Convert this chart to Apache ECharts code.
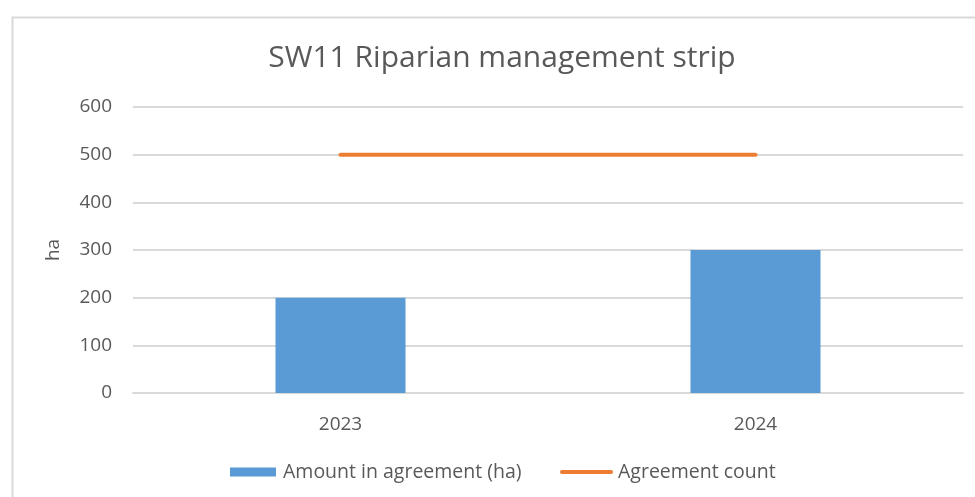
<!DOCTYPE html>
<html>
<head>
<meta charset="utf-8">
<script src="https://cdn.jsdelivr.net/npm/echarts@6/dist/echarts.min.js"></script>
<style>html,body{margin:0;padding:0;background:#fff;}#c{width:975px;height:497px;}</style>
</head>
<body>
<div id="c"></div>
<script>
const categories = ['2023', '2024'];
const amountHa = [200, 300];
const agreementCount = [500, 500];
const yTicks = { min: 0, max: 600, interval: 100 };
const titleText = 'SW11 Riparian management strip';
const seriesNames = ['Amount in agreement (ha)', 'Agreement count'];

const FONT = '"Open Sans", "Noto Sans", sans-serif';
const legendText = { fontFamily: FONT, fontSize: 19.5, color: '#595959', padding: [0, 0, 0, 2] };
const chart = echarts.init(document.getElementById('c'), null, { renderer: 'canvas' });
chart.setOption({
  animation: false,
  backgroundColor: '#fff',
  graphic: [{
    type: 'rect', left: 10, top: 15, silent: true,
    shape: { width: 980, height: 500 },
    style: { fill: 'none', stroke: '#D9D9D9', lineWidth: 2 }
  }],
  title: {
    text: titleText, left: 497, top: 38, textAlign: 'center',
    textStyle: { fontFamily: FONT, fontSize: 30, fontWeight: 'normal', color: '#595959' }
  },
  grid: { left: 133, right: 12, top: 107, bottom: 104 },
  legend: [
    {
      left: 225, top: 457, itemWidth: 46, itemHeight: 9, padding: 5,
      textStyle: legendText,
      data: [{ name: seriesNames[0], icon: 'rect' }]
    },
    {
      left: 555, top: 457, itemWidth: 53, itemHeight: 4, padding: 5,
      textStyle: Object.assign({}, legendText, { padding: 0 }),
      data: [{ name: seriesNames[1], icon: 'path://M2,0 L51,0 A2,2 0 0 1 51,4 L2,4 A2,2 0 0 1 2,0 Z' }]
    }
  ],
  xAxis: {
    type: 'category', data: categories,
    axisLine: { lineStyle: { color: '#D9D9D9', width: 2 } },
    axisTick: { show: false },
    axisLabel: { fontFamily: FONT, fontSize: 19, color: '#595959', margin: 22 }
  },
  yAxis: {
    type: 'value', min: yTicks.min, max: yTicks.max, interval: yTicks.interval,
    name: 'ha', nameLocation: 'middle', nameRotate: 90, nameGap: 70,
    nameTextStyle: { fontFamily: FONT, fontSize: 19, color: '#595959' },
    axisLine: { show: false }, axisTick: { show: false },
    axisLabel: { fontFamily: FONT, fontSize: 19, color: '#595959', margin: 21 },
    splitLine: { lineStyle: { color: '#D9D9D9', width: 2 } }
  },
  series: [
    {
      name: seriesNames[0], type: 'bar', data: amountHa, barWidth: 130,
      itemStyle: { color: '#5B9BD5' }
    },
    {
      name: seriesNames[1], type: 'line', data: agreementCount,
      symbol: 'none', showSymbol: false,
      lineStyle: { color: '#ED7D31', width: 4, cap: 'round' },
      itemStyle: { color: '#ED7D31' }
    }
  ]
});
</script>
</body>
</html>
